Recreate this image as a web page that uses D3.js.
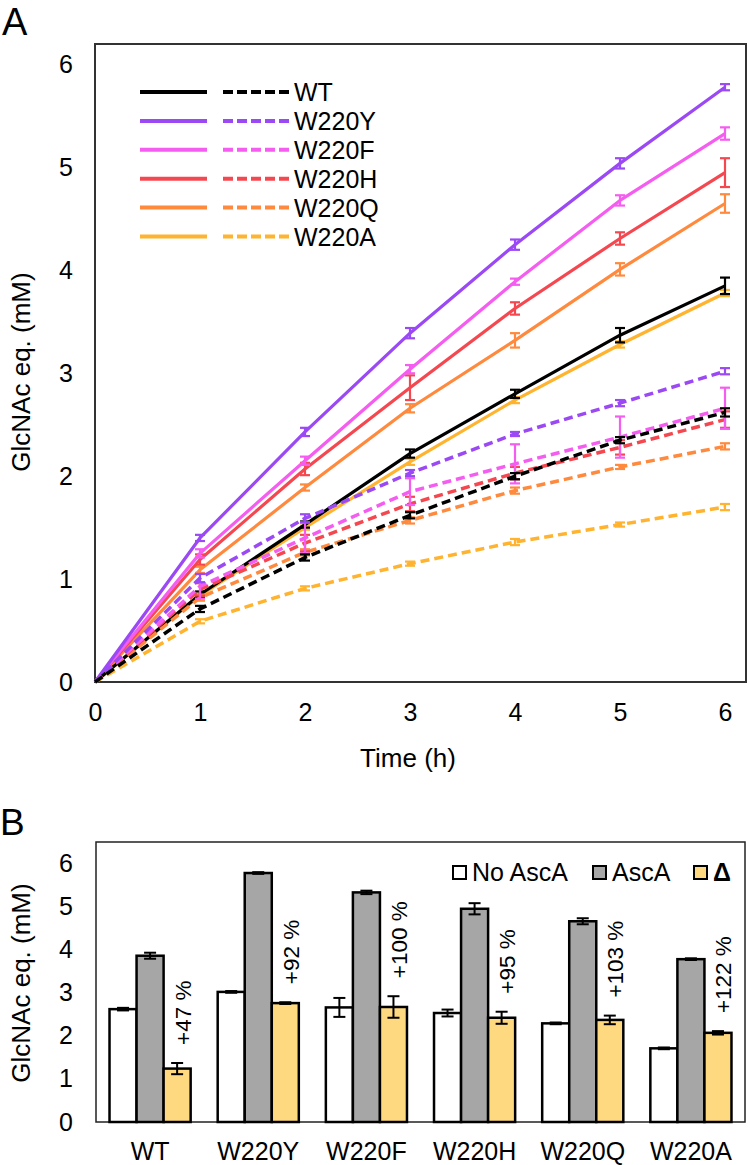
<!DOCTYPE html>
<html>
<head>
<meta charset="utf-8">
<script src="https://cdn.jsdelivr.net/npm/d3@7"></script>
<style>
  html, body { margin: 0; padding: 0; background: #fff; }
  svg { display: block; font-family: "Liberation Sans", Arial, Helvetica, sans-serif; }
</style>
</head>
<body>
<svg id="chart" width="750" height="1165"></svg>
<script>
// ---------------- Panel A data ----------------
const timePoints = [0, 1, 2, 3, 4, 5, 6];
const seriesNames = ["WT", "W220Y", "W220F", "W220H", "W220Q", "W220A"];
const seriesColors = ["#000000", "#9b48f5", "#f55cf0", "#f5474f", "#ff8a3d", "#ffb32e"];

// With AscA (solid lines)
const ascWT   = [0, 0.85, 1.53, 2.22, 2.80, 3.37, 3.85];
const ascY    = [0, 1.40, 2.43, 3.39, 4.25, 5.04, 5.78];
const ascF    = [0, 1.25, 2.15, 3.04, 3.89, 4.68, 5.33];
const ascH    = [0, 1.19, 2.07, 2.86, 3.63, 4.31, 4.95];
const ascQ    = [0, 1.09, 1.89, 2.66, 3.32, 4.01, 4.65];
const ascA    = [0, 0.84, 1.50, 2.14, 2.74, 3.28, 3.78];
const ascWTErr = [0, 0.03, 0.03, 0.04, 0.04, 0.07, 0.08];
const ascYErr  = [0, 0.03, 0.04, 0.05, 0.05, 0.05, 0.03];
const ascFErr  = [0, 0.04, 0.04, 0.04, 0.03, 0.05, 0.06];
const ascHErr  = [0, 0.05, 0.06, 0.12, 0.06, 0.06, 0.14];
const ascQErr  = [0, 0.03, 0.03, 0.04, 0.07, 0.06, 0.09];
const ascAErr  = [0, 0.02, 0.02, 0.03, 0.03, 0.03, 0.03];

// Without AscA (dashed lines)
const noWT    = [0, 0.71, 1.21, 1.62, 2.00, 2.35, 2.62];
const noY     = [0, 1.01, 1.59, 2.03, 2.41, 2.71, 3.02];
const noF     = [0, 0.93, 1.40, 1.85, 2.12, 2.38, 2.66];
const noH     = [0, 0.90, 1.35, 1.73, 2.03, 2.28, 2.55];
const noQ     = [0, 0.82, 1.26, 1.57, 1.86, 2.09, 2.29];
const noA     = [0, 0.59, 0.91, 1.15, 1.36, 1.53, 1.70];
const noWTErr = [0, 0.03, 0.03, 0.03, 0.03, 0.03, 0.04];
const noYErr  = [0, 0.04, 0.04, 0.03, 0.02, 0.03, 0.03];
const noFErr  = [0, 0.12, 0.15, 0.13, 0.19, 0.20, 0.20];
const noHErr  = [0, 0.06, 0.08, 0.07, 0.06, 0.07, 0.08];
const noQErr  = [0, 0.03, 0.03, 0.03, 0.03, 0.02, 0.03];
const noAErr  = [0, 0.02, 0.02, 0.02, 0.03, 0.02, 0.03];

const xTicksA = [0, 1, 2, 3, 4, 5, 6];
const yTicksA = [0, 1, 2, 3, 4, 5, 6];

// ---------------- Panel B data ----------------
const categories = ["WT", "W220Y", "W220F", "W220H", "W220Q", "W220A"];
const barSeries = ["No AscA", "AscA", "Δ"];
const barColors = ["#ffffff", "#a6a6a6", "#ffd980"];
const noAscVals = [2.62, 3.02, 2.66, 2.53, 2.29, 1.71];
const noAscErr  = [0.03, 0.02, 0.22, 0.08, 0.02, 0.02];
const ascVals   = [3.86, 5.78, 5.33, 4.95, 4.66, 3.78];
const ascErr    = [0.07, 0.02, 0.04, 0.13, 0.07, 0.02];
const deltaVals = [1.24, 2.76, 2.67, 2.42, 2.37, 2.07];
const deltaErr  = [0.13, 0.02, 0.25, 0.14, 0.10, 0.04];
const pctLabels = ["+47 %", "+92 %", "+100 %", "+95 %", "+103 %", "+122 %"];
const yTicksB = [0, 1, 2, 3, 4, 5, 6];

// ---------------- Drawing ----------------
const svg = d3.select("#chart");
const FONT = 25;
const TITLE = 26;

// ===== Panel A =====
const A = { left: 95, right: 746, top: 44, bottom: 682 };
const xA = d3.scaleLinear().domain([0, 6.2]).range([A.left, A.right]);
const yA = d3.scaleLinear().domain([0, 6.2]).range([A.bottom, A.top]);

svg.append("text").attr("x", 2).attr("y", 35).attr("font-size", 38).text("A");

svg.append("rect")
  .attr("x", A.left).attr("y", A.top)
  .attr("width", A.right - A.left).attr("height", A.bottom - A.top)
  .attr("fill", "none").attr("stroke", "#333").attr("stroke-width", 2);

const yAxisA = d3.axisLeft(yA).tickValues(yTicksA).tickSize(0).tickPadding(22).tickFormat(d3.format("d"));
const gYA = svg.append("g").attr("transform", `translate(${A.left},0)`).call(yAxisA);
gYA.select(".domain").remove();
gYA.selectAll("text").attr("font-size", FONT).attr("font-family", null).attr("fill", "#000");

const xAxisA = d3.axisBottom(xA).tickValues(xTicksA).tickSize(0).tickPadding(21).tickFormat(d3.format("d"));
const gXA = svg.append("g").attr("transform", `translate(0,${A.bottom})`).call(xAxisA);
gXA.select(".domain").remove();
gXA.selectAll("text").attr("font-size", FONT).attr("font-family", null).attr("fill", "#000");

svg.append("text").attr("x", 408).attr("y", 767).attr("text-anchor", "middle")
  .attr("font-size", TITLE).text("Time (h)");
svg.append("text").attr("transform", "translate(30,372) rotate(-90)").attr("text-anchor", "middle")
  .attr("font-size", TITLE).text("GlcNAc eq. (mM)");

const solidSets = [
  [ascWT, ascWTErr], [ascY, ascYErr], [ascF, ascFErr],
  [ascH, ascHErr], [ascQ, ascQErr], [ascA, ascAErr]
];
const dashedSets = [
  [noWT, noWTErr], [noY, noYErr], [noF, noFErr],
  [noH, noHErr], [noQ, noQErr], [noA, noAErr]
];

const lineGen = d3.line().x(d => xA(d.t)).y(d => yA(d.v));
const plotA = svg.append("g");

function drawSeries(vals, errs, color, dashed) {
  const pts = timePoints.map((t, i) => ({ t, v: vals[i], e: errs[i] }));
  plotA.append("path").datum(pts)
    .attr("d", lineGen)
    .attr("fill", "none").attr("stroke", color)
    .attr("stroke-width", dashed ? 3.5 : 3.2)
    .attr("stroke-dasharray", dashed ? "9,5" : null)
    .attr("stroke-linejoin", "round");
  const eb = plotA.append("g").attr("stroke", color).attr("stroke-width", 2.2);
  pts.filter(p => p.e > 0).forEach(p => {
    const x = xA(p.t), y1 = yA(p.v - p.e), y2 = yA(p.v + p.e);
    eb.append("line").attr("x1", x).attr("x2", x).attr("y1", y1).attr("y2", y2);
    eb.append("line").attr("x1", x - 5).attr("x2", x + 5).attr("y1", y1).attr("y2", y1);
    eb.append("line").attr("x1", x - 5).attr("x2", x + 5).attr("y1", y2).attr("y2", y2);
  });
}
for (let i = seriesNames.length - 1; i >= 0; i--) {
  drawSeries(solidSets[i][0], solidSets[i][1], seriesColors[i], false);
}
for (let i = seriesNames.length - 1; i >= 0; i--) {
  drawSeries(dashedSets[i][0], dashedSets[i][1], seriesColors[i], true);
}

// legend A
const legA = svg.append("g");
seriesNames.forEach((name, i) => {
  const y = 92 + i * 28.9;
  legA.append("line").attr("x1", 140).attr("x2", 207).attr("y1", y).attr("y2", y)
    .attr("stroke", seriesColors[i]).attr("stroke-width", 4);
  legA.append("line").attr("x1", 223).attr("x2", 289).attr("y1", y).attr("y2", y)
    .attr("stroke", seriesColors[i]).attr("stroke-width", 4).attr("stroke-dasharray", "10,4");
  legA.append("text").attr("x", 294).attr("y", y).attr("dy", "0.36em")
    .attr("font-size", FONT).text(name);
});

// ===== Panel B =====
const B = { left: 96, right: 745, top: 842, bottom: 1122 };
svg.append("text").attr("x", 0).attr("y", 835).attr("font-size", 37).text("B");

const xB = d3.scaleBand().domain(categories).range([B.left, B.right])
  .paddingInner(0.25).paddingOuter(0.125);
const xSub = d3.scaleBand().domain(barSeries).range([0, xB.bandwidth()]);
const yB = d3.scaleLinear().domain([0, 6.5]).range([B.bottom, B.top]);

svg.append("rect")
  .attr("x", B.left).attr("y", B.top)
  .attr("width", B.right - B.left).attr("height", B.bottom - B.top)
  .attr("fill", "none").attr("stroke", "#222").attr("stroke-width", 1.5);

const yAxisB = d3.axisLeft(yB).tickValues(yTicksB).tickSize(0).tickPadding(23).tickFormat(d3.format("d"));
const gYB = svg.append("g").attr("transform", `translate(${B.left},0)`).call(yAxisB);
gYB.select(".domain").remove();
gYB.selectAll("text").attr("font-size", FONT).attr("font-family", null).attr("fill", "#000");

const xAxisB = d3.axisBottom(xB).tickSize(0).tickPadding(20);
const gXB = svg.append("g").attr("transform", `translate(0,${B.bottom})`).call(xAxisB);
gXB.select(".domain").remove();
gXB.selectAll("text").attr("font-size", FONT).attr("font-family", null).attr("fill", "#000");

svg.append("text").attr("transform", "translate(30,983) rotate(-90)").attr("text-anchor", "middle")
  .attr("font-size", TITLE).text("GlcNAc eq. (mM)");

const barSets = [[noAscVals, noAscErr], [ascVals, ascErr], [deltaVals, deltaErr]];
const barsG = svg.append("g");
categories.forEach((cat, ci) => {
  barSeries.forEach((s, si) => {
    const v = barSets[si][0][ci], e = barSets[si][1][ci];
    const x0 = xB(cat) + xSub(s);
    const w = xSub.bandwidth();
    barsG.append("rect").attr("x", x0).attr("y", yB(v))
      .attr("width", w).attr("height", yB(0) - yB(v))
      .attr("fill", barColors[si]).attr("stroke", "#000").attr("stroke-width", 2.5);
    const cx = x0 + w / 2, y1 = yB(v - e), y2 = yB(v + e);
    const eg = barsG.append("g").attr("stroke", "#000").attr("stroke-width", 2);
    eg.append("line").attr("x1", cx).attr("x2", cx).attr("y1", y1).attr("y2", y2);
    eg.append("line").attr("x1", cx - 6).attr("x2", cx + 6).attr("y1", y1).attr("y2", y1);
    eg.append("line").attr("x1", cx - 6).attr("x2", cx + 6).attr("y1", y2).attr("y2", y2);
  });
  const dx = xB(cat) + xSub("Δ") + xSub.bandwidth() / 2 + 6;
  const dy = yB(deltaVals[ci] + deltaErr[ci]) - 18;
  barsG.append("text")
    .attr("transform", `translate(${dx},${dy}) rotate(-90)`)
    .attr("dominant-baseline", "central")
    .attr("font-size", 22.5).text(pctLabels[ci]);
});

// legend B
const legB = svg.append("g");
const legItems = [
  { x: 453, label: "No AscA", bold: false },
  { x: 593, label: "AscA", bold: false },
  { x: 694, label: "Δ", bold: true }
];
legItems.forEach((it, i) => {
  legB.append("rect").attr("x", it.x).attr("y", 866).attr("width", 13).attr("height", 13)
    .attr("fill", barColors[i]).attr("stroke", "#000").attr("stroke-width", 2);
  legB.append("text").attr("x", it.x + 19).attr("y", 881)
    .attr("font-size", FONT).attr("font-weight", it.bold ? "bold" : null).text(it.label);
});
</script>
</body>
</html>
